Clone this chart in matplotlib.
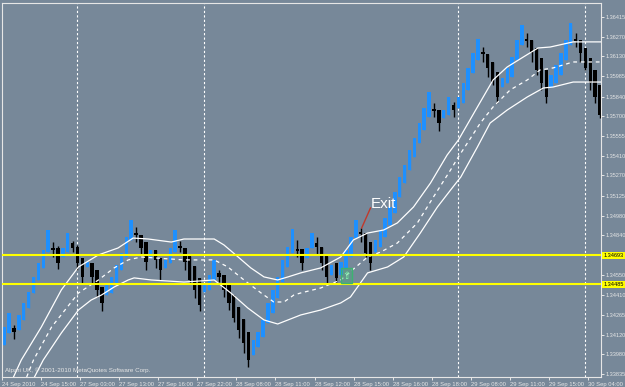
import matplotlib
matplotlib.use("Agg")
import matplotlib.pyplot as plt
import matplotlib.transforms as mtransforms
from matplotlib.patches import Rectangle

plt.rcParams['font.family'] = ['Liberation Sans', 'DejaVu Sans']

# renko-style bars, one value per bar (price units)
opens = [
    1.34045, 1.34132, 1.34168, 1.34153, 1.34226, 1.34312, 1.34421, 1.34515, 1.34601, 1.34717,
    1.34746, 1.34746, 1.34681, 1.34717, 1.34782, 1.34753, 1.34674, 1.34609, 1.34638, 1.34587,
    1.34464, 1.34406, 1.34421, 1.34493, 1.34587, 1.34681, 1.34804, 1.34854, 1.34840, 1.34789,
    1.34674, 1.34731, 1.34674, 1.34601, 1.34638, 1.34717, 1.34760, 1.34746, 1.34688, 1.34616,
    1.34529, 1.34428, 1.34443, 1.34515, 1.34565, 1.34551, 1.34493, 1.34406, 1.34320, 1.34233,
    1.34139, 1.33973, 1.34031, 1.34103, 1.34204, 1.34276, 1.34385, 1.34500, 1.34609, 1.34710,
    1.34739, 1.34739, 1.34674, 1.34746, 1.34782, 1.34753, 1.34688, 1.34551, 1.34638, 1.34551,
    1.34601, 1.34681, 1.34818, 1.34862, 1.34854, 1.34789, 1.34717, 1.34753, 1.34825, 1.34912,
    1.34999, 1.35115, 1.35216, 1.35310, 1.35404, 1.35505, 1.35599, 1.35693, 1.35750, 1.35743,
    1.35685, 1.35707, 1.35779, 1.35758, 1.35794, 1.35888, 1.36010, 1.36104, 1.36162, 1.36148,
    1.36090, 1.36018, 1.35909, 1.35938, 1.35982, 1.36104, 1.36213, 1.36256, 1.36249, 1.36191,
    1.36119, 1.36032, 1.35909, 1.35938, 1.35996, 1.36104, 1.36213, 1.36256, 1.36249, 1.36191,
    1.36119, 1.36032, 1.35924,
]
closes = [
    1.34175, 1.34276, 1.34139, 1.34262, 1.34349, 1.34428, 1.34536, 1.34638, 1.34731, 1.34876,
    1.34731, 1.34638, 1.34746, 1.34854, 1.34746, 1.34638, 1.34536, 1.34645, 1.34536, 1.34443,
    1.34349, 1.34479, 1.34536, 1.34623, 1.34710, 1.34825, 1.34948, 1.34840, 1.34746, 1.34645,
    1.34731, 1.34659, 1.34587, 1.34659, 1.34746, 1.34876, 1.34746, 1.34645, 1.34515, 1.34443,
    1.34334, 1.34493, 1.34551, 1.34659, 1.34536, 1.34443, 1.34349, 1.34240, 1.34153, 1.34060,
    1.33937, 1.34081, 1.34139, 1.34226, 1.34349, 1.34443, 1.34536, 1.34659, 1.34753, 1.34883,
    1.34724, 1.34638, 1.34746, 1.34854, 1.34753, 1.34638, 1.34536, 1.34623, 1.34529, 1.34645,
    1.34731, 1.34825, 1.34948, 1.34847, 1.34710, 1.34638, 1.34804, 1.34876, 1.34963, 1.35042,
    1.35151, 1.35259, 1.35346, 1.35454, 1.35541, 1.35649, 1.35758, 1.35873, 1.35736, 1.35649,
    1.35743, 1.35837, 1.35743, 1.35837, 1.35938, 1.36047, 1.36155, 1.36256, 1.36148, 1.36047,
    1.35945, 1.35837, 1.35974, 1.36047, 1.36126, 1.36249, 1.36357, 1.36242, 1.36155, 1.36032,
    1.35938, 1.35837, 1.35996, 1.36068, 1.36155, 1.36249, 1.36372, 1.36242, 1.36155, 1.36047,
    1.35938, 1.35837, 1.35707,
]
highs = [
    1.34175, 1.34276, 1.34190, 1.34262, 1.34349, 1.34428, 1.34536, 1.34638, 1.34731, 1.34876,
    1.34789, 1.34760, 1.34746, 1.34854, 1.34797, 1.34768, 1.34674, 1.34645, 1.34638, 1.34587,
    1.34464, 1.34479, 1.34536, 1.34623, 1.34710, 1.34825, 1.34948, 1.34898, 1.34840, 1.34789,
    1.34731, 1.34731, 1.34674, 1.34659, 1.34746, 1.34876, 1.34797, 1.34746, 1.34688, 1.34616,
    1.34529, 1.34493, 1.34551, 1.34659, 1.34587, 1.34551, 1.34493, 1.34406, 1.34320, 1.34233,
    1.34139, 1.34081, 1.34139, 1.34226, 1.34349, 1.34443, 1.34536, 1.34659, 1.34753, 1.34883,
    1.34804, 1.34739, 1.34746, 1.34854, 1.34825, 1.34753, 1.34688, 1.34623, 1.34638, 1.34645,
    1.34731, 1.34825, 1.34948, 1.34891, 1.34854, 1.34789, 1.34804, 1.34876, 1.34963, 1.35042,
    1.35151, 1.35259, 1.35346, 1.35454, 1.35541, 1.35649, 1.35758, 1.35873, 1.35794, 1.35743,
    1.35743, 1.35837, 1.35801, 1.35837, 1.35938, 1.36047, 1.36155, 1.36256, 1.36198, 1.36148,
    1.36090, 1.36018, 1.35974, 1.36047, 1.36126, 1.36249, 1.36357, 1.36300, 1.36249, 1.36191,
    1.36119, 1.36032, 1.35996, 1.36068, 1.36155, 1.36249, 1.36372, 1.36300, 1.36249, 1.36191,
    1.36119, 1.36032, 1.35924,
]
lows = [
    1.34045, 1.34132, 1.34088, 1.34153, 1.34226, 1.34312, 1.34421, 1.34515, 1.34601, 1.34717,
    1.34681, 1.34594, 1.34681, 1.34717, 1.34717, 1.34587, 1.34493, 1.34609, 1.34493, 1.34392,
    1.34291, 1.34406, 1.34421, 1.34493, 1.34587, 1.34681, 1.34804, 1.34789, 1.34695, 1.34587,
    1.34674, 1.34601, 1.34515, 1.34601, 1.34638, 1.34717, 1.34717, 1.34587, 1.34493, 1.34385,
    1.34291, 1.34428, 1.34443, 1.34515, 1.34500, 1.34392, 1.34298, 1.34211, 1.34096, 1.33987,
    1.33886, 1.33973, 1.34031, 1.34103, 1.34204, 1.34276, 1.34385, 1.34500, 1.34609, 1.34710,
    1.34681, 1.34587, 1.34674, 1.34746, 1.34695, 1.34587, 1.34493, 1.34551, 1.34493, 1.34551,
    1.34601, 1.34681, 1.34818, 1.34789, 1.34681, 1.34587, 1.34717, 1.34753, 1.34825, 1.34912,
    1.34999, 1.35115, 1.35216, 1.35310, 1.35404, 1.35505, 1.35599, 1.35693, 1.35693, 1.35591,
    1.35685, 1.35707, 1.35693, 1.35758, 1.35794, 1.35888, 1.36010, 1.36104, 1.36090, 1.35982,
    1.35924, 1.35794, 1.35909, 1.35938, 1.35982, 1.36104, 1.36213, 1.36198, 1.36090, 1.35996,
    1.35888, 1.35794, 1.35909, 1.35938, 1.35996, 1.36104, 1.36213, 1.36198, 1.36090, 1.36032,
    1.35888, 1.35794, 1.35685,
]

# channel lines (bar index, price)
upper_x = [1.9, 3.5, 7.6, 11.7, 15.2, 19.3, 23.3, 26.4, 29.5, 34.2, 36.8, 43.0, 45.0, 47.9, 50.5,
           53.2, 56.0, 58.1, 60.7, 64.8, 68.9, 71.5, 74.4, 77.7, 80.5, 83.8, 87.3, 90.7, 93.0,
           96.9, 100.1, 103.0, 106.3, 109.3, 111.8, 116.5, 122.5]
upper_y = [1.33814, 1.33937, 1.34175, 1.34443, 1.34609, 1.34696, 1.34746, 1.34818, 1.34811,
           1.34789, 1.34811, 1.34811, 1.34768, 1.34681, 1.34602, 1.34537, 1.34515, 1.34537,
           1.34566, 1.34602, 1.34681, 1.34804, 1.34854, 1.34876, 1.34927, 1.35042, 1.35216,
           1.35418, 1.35526, 1.35765, 1.35960, 1.36054, 1.36126, 1.36191, 1.36198, 1.36235,
           1.36235]
mid_x = [4.6, 6.0, 9.7, 15.2, 19.3, 22.5, 25.4, 28.0, 36.8, 43.0, 45.8, 49.1, 52.6, 55.2, 57.3,
         59.3, 60.7, 64.8, 68.9, 74.4, 77.1, 80.5, 84.6, 87.9, 91.4, 93.0, 97.5, 100.1, 103.6,
         107.1, 109.7, 112.4, 116.5, 122.5]
mid_y = [1.33814, 1.33937, 1.34175, 1.34421, 1.34515, 1.34602, 1.34660, 1.34681, 1.34660,
         1.34660, 1.34609, 1.34515, 1.34421, 1.34356, 1.34356, 1.34406, 1.34421, 1.34457,
         1.34515, 1.34681, 1.34717, 1.34782, 1.34927, 1.35115, 1.35310, 1.35404, 1.35649,
         1.35765, 1.35888, 1.35960, 1.36032, 1.36047, 1.36090, 1.36090]
lower_x = [6.2, 8.0, 11.7, 15.2, 17.8, 19.9, 22.5, 25.4, 26.6, 30.1, 36.8, 43.0, 46.4, 49.9,
           53.2, 56.0, 58.1, 60.7, 64.8, 68.9, 70.9, 74.4, 78.5, 81.8, 85.2, 88.7, 91.4, 93.5,
           96.9, 99.5, 103.0, 107.1, 110.4, 112.4, 116.5, 122.5]
lower_y = [1.33814, 1.33937, 1.34132, 1.34298, 1.34370, 1.34406, 1.34464, 1.34515, 1.34530,
           1.34515, 1.34500, 1.34515, 1.34421, 1.34312, 1.34226, 1.34197, 1.34226, 1.34262,
           1.34298, 1.34349, 1.34392, 1.34566, 1.34609, 1.34681, 1.34854, 1.35042, 1.35165,
           1.35259, 1.35476, 1.35649, 1.35743, 1.35837, 1.35902, 1.35909, 1.35945, 1.35945]

day_breaks = [15, 41, 93, 119]
levels = [1.34693, 1.34485]

price_ticks = [1.36415, 1.36270, 1.36130, 1.35985, 1.35840, 1.35700, 1.35555, 1.35410, 1.35270,
               1.35125, 1.34980, 1.34840, 1.34550, 1.34410, 1.34265, 1.34120, 1.33980, 1.33835]
time_ticks = [0, 8, 16, 24, 32, 40, 48, 56, 64, 72, 80, 88, 96, 104, 112, 120]
time_labels = ['24 Sep 2010', '24 Sep 15:00', '27 Sep 03:00', '27 Sep 13:00', '27 Sep 16:00',
               '27 Sep 22:00', '28 Sep 08:00', '28 Sep 11:00', '28 Sep 12:00', '28 Sep 15:00',
               '28 Sep 16:00', '28 Sep 18:00', '29 Sep 08:00', '29 Sep 11:00', '29 Sep 15:00',
               '30 Sep 04:00']

bg = '#778899'
fg = '#e6e6e6'
up_color = '#1e90ff'

fig = plt.figure(figsize=(6.25, 3.87), dpi=100)
fig.patch.set_facecolor(bg)
ax = fig.add_axes([2 / 625, 10 / 387, 599 / 625, 374 / 387])
ax.set_facecolor(bg)

# candles
for i in range(len(opens)):
    o, c = opens[i], closes[i]
    col = up_color if c >= o else 'black'
    ax.vlines(i, lows[i], highs[i], color=col, lw=1, zorder=2)
    h = max(abs(c - o), 0.00012)
    ax.bar(i, h, bottom=min(o, c), width=0.7, color=col, linewidth=0, zorder=2)

ax.plot(upper_x, upper_y, color='white', lw=0.9, zorder=3)
ax.plot(mid_x, mid_y, color='white', lw=0.9, ls=(0, (3, 3)), zorder=3)
ax.plot(lower_x, lower_y, color='white', lw=0.9, zorder=3)

for d in day_breaks:
    ax.axvline(d, color='white', lw=0.8, ls=(0, (2, 2)), zorder=1)

trans = mtransforms.blended_transform_factory(ax.transAxes, ax.transData)
for lv in levels:
    ax.axhline(lv, color='#ffff00', lw=1.5, zorder=4)
    ax.text(1.004, lv, '%.5f' % lv, transform=trans, fontsize=4, color='black',
            ha='left', va='center', clip_on=False, zorder=6,
            bbox=dict(boxstyle='square,pad=0.2', fc='#ffff00', ec='none'))

# buy arrow and exit mark
ax.add_patch(Rectangle((69.0, 1.34493), 2.3, 0.00108, fc='#3cb371', alpha=0.35,
                       ec='none', zorder=5))
ax.add_patch(Rectangle((69.0, 1.34493), 2.3, 0.00108, fc='none', ec='#3cb371',
                       lw=1, zorder=5))
ax.text(70.15, 1.34547, '\u21e7', color='#7fffaa', fontsize=7, family='DejaVu Sans',
        ha='center', va='center', zorder=6)
ax.plot([73.2, 75.0], [1.34891, 1.35035], color='#c0392b', lw=1, zorder=5)
ax.text(75.0, 1.35064, 'Exit', color='white', fontsize=11,
        ha='left', va='center', zorder=6)

ax.text(0.005, 0.012, 'Alpari UK, \u00a9 2001-2010 MetaQuotes Software Corp.',
        transform=ax.transAxes, fontsize=4.5, color=fg, ha='left', va='bottom', zorder=6)

ax.set_xlim(-0.14, 122.2)
ax.set_ylim(1.33814, 1.36516)

ax.yaxis.tick_right()
ax.set_yticks(price_ticks)
ax.set_yticklabels(['%.5f' % p for p in price_ticks])
ax.set_xticks([t - 0.45 for t in time_ticks])
ax.set_xticklabels(time_labels)
for lbl in ax.get_xticklabels():
    lbl.set_horizontalalignment('left')
ax.tick_params(axis='both', colors=fg, length=2.5, width=0.7, direction='out')
ax.tick_params(axis='x', pad=1, labelsize=4.2)
ax.tick_params(axis='y', pad=1, labelsize=4)

for s in ax.spines.values():
    s.set_color(fg)
    s.set_linewidth(0.8)

fig.savefig('out.png', dpi=100, facecolor=bg)
